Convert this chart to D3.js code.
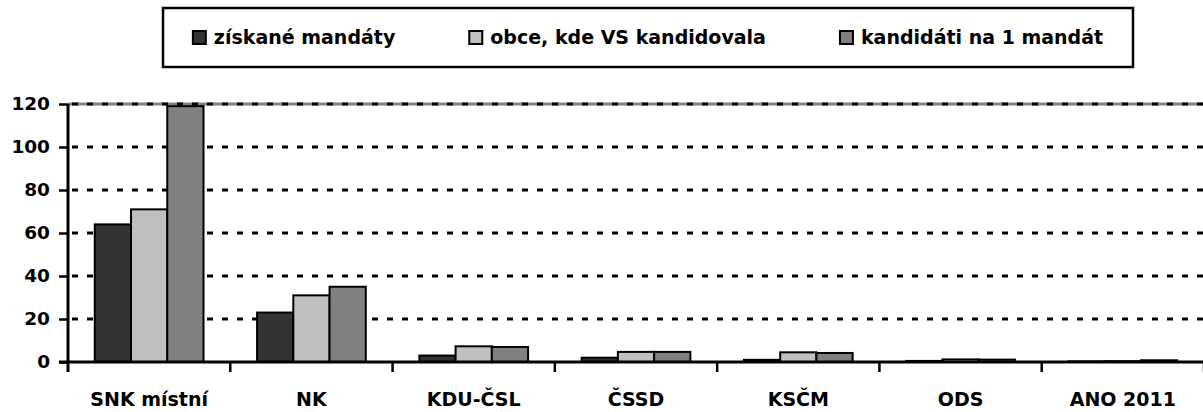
<!DOCTYPE html>
<html>
<head>
<meta charset="utf-8">
<script src="https://cdn.jsdelivr.net/npm/d3@7"></script>
<style>
  body { margin: 0; background: #fff; }
  text { font-family: "DejaVu Sans", sans-serif; font-weight: bold; fill: #000; }
</style>
</head>
<body>
<div id="chart"></div>
<script>
// data
const parties = ['SNK místní', 'NK', 'KDU-ČSL', 'ČSSD', 'KSČM', 'ODS', 'ANO 2011'];
const seriesNames = ['získané mandáty', 'obce, kde VS kandidovala', 'kandidáti na 1 mandát'];
const mandates = [64, 23, 3, 2, 1, 0.5, 0.3];
const municipalities = [71, 31, 7.3, 4.7, 4.5, 1.2, 0.4];
const candidatesPerMandate = [119, 35, 7, 4.7, 4.2, 1.1, 0.8];
const yTicks = [0, 20, 40, 60, 80, 100, 120];
const colors = ['#333333', '#c0c0c0', '#808080'];

const series = [mandates, municipalities, candidatesPerMandate];
const W = 1203, H = 412;
const plotLeft = 68, plotRight = 1204, plotTop = 104, plotBottom = 362;

const svg = d3.select('#chart').append('svg')
  .attr('width', W)
  .attr('height', H);

const x = d3.scaleBand()
  .domain(parties)
  .range([plotLeft, plotRight])
  .paddingInner(0.33)
  .paddingOuter(0.165);

const xInner = d3.scaleBand()
  .domain(d3.range(series.length))
  .range([0, x.bandwidth()]);

const y = d3.scaleLinear()
  .domain([0, 120])
  .range([plotBottom, plotTop]);

// gridlines
svg.append('line')
  .attr('x1', plotLeft).attr('x2', W)
  .attr('y1', y(120)).attr('y2', y(120))
  .attr('stroke', '#808080').attr('stroke-width', 3);

svg.append('g')
  .selectAll('line')
  .data(yTicks.filter(d => d > 0))
  .enter()
  .append('line')
  .attr('x1', plotLeft + 4).attr('x2', W)
  .attr('y1', d => y(d)).attr('y2', d => y(d))
  .attr('stroke', '#000')
  .attr('stroke-width', 3)
  .attr('stroke-dasharray', '6,9');

// bars
const rows = parties.map((p, i) => ({ party: p, values: series.map(s => s[i]) }));

const groups = svg.append('g')
  .selectAll('g')
  .data(rows)
  .enter()
  .append('g')
  .attr('transform', d => 'translate(' + x(d.party) + ',0)');

groups.selectAll('rect')
  .data(d => d.values.map((v, k) => ({ v: v, k: k })))
  .enter()
  .append('rect')
  .attr('x', d => xInner(d.k))
  .attr('y', d => y(d.v))
  .attr('width', xInner.bandwidth())
  .attr('height', d => y(0) - y(d.v))
  .attr('fill', d => colors[d.k])
  .attr('stroke', '#000')
  .attr('stroke-width', 2);

// y axis
const yAxis = d3.axisLeft(y)
  .tickValues(yTicks)
  .tickSize(9)
  .tickPadding(9);

const gy = svg.append('g')
  .attr('transform', 'translate(' + plotLeft + ',0)')
  .call(yAxis);
gy.select('.domain').remove();
gy.selectAll('.tick line').attr('stroke', '#000').attr('stroke-width', 2.5);
gy.selectAll('.tick text')
  .style('font-size', '18.5px')
  .style('font-family', '"DejaVu Sans", sans-serif')
  .style('font-weight', 'bold');

svg.append('line')
  .attr('x1', plotLeft).attr('x2', plotLeft)
  .attr('y1', plotTop).attr('y2', plotBottom + 10)
  .attr('stroke', '#000').attr('stroke-width', 3);

// x axis
svg.append('line')
  .attr('x1', plotLeft - 9).attr('x2', W)
  .attr('y1', plotBottom).attr('y2', plotBottom)
  .attr('stroke', '#000').attr('stroke-width', 3);

svg.append('g')
  .selectAll('line')
  .data(d3.range(1, parties.length + 1))
  .enter()
  .append('line')
  .attr('x1', i => plotLeft + i * x.step())
  .attr('x2', i => plotLeft + i * x.step())
  .attr('y1', plotBottom).attr('y2', plotBottom + 10)
  .attr('stroke', '#000').attr('stroke-width', 2.5);

const xAxis = d3.axisBottom(x).tickSize(0).tickPadding(31);
const gx = svg.append('g')
  .attr('transform', 'translate(0,' + plotBottom + ')')
  .call(xAxis);
gx.select('.domain').remove();
gx.selectAll('.tick text')
  .style('font-size', '19px')
  .style('font-family', '"DejaVu Sans", sans-serif')
  .style('font-weight', 'bold');

// legend
svg.append('rect')
  .attr('x', 163).attr('y', 8)
  .attr('width', 970).attr('height', 59)
  .attr('fill', '#fff')
  .attr('stroke', '#000').attr('stroke-width', 2.5);

const legend = svg.append('g');
let lx = 0;
seriesNames.forEach((name, k) => {
  const item = legend.append('g').attr('transform', 'translate(' + lx + ',0)');
  item.append('rect')
    .attr('x', 0).attr('y', 31)
    .attr('width', 13).attr('height', 13)
    .attr('fill', colors[k])
    .attr('stroke', '#000').attr('stroke-width', 2);
  const t = item.append('text')
    .attr('x', 21).attr('y', 44)
    .style('font-size', '19px')
    .text(name);
  lx += 21 + t.node().getComputedTextLength() + 74;
});
const lw = lx - 74;
legend.attr('transform', 'translate(' + (648 - lw / 2) + ',0)');
</script>
</body>
</html>
